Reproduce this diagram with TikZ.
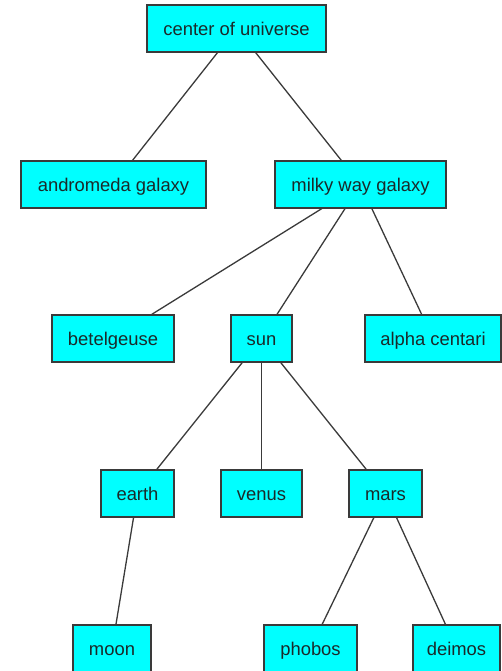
\documentclass[tikz,border=0pt]{standalone}
\usepackage{fontspec}
\setmainfont{Liberation Sans}
\definecolor{boxfill}{HTML}{00FFFF}
\definecolor{edgecol}{HTML}{3A3A3A}
\definecolor{txtcol}{HTML}{1A2A2A}
\begin{document}
\begin{tikzpicture}[x=1pt,y=-1pt,
  box/.style={draw=edgecol,fill=boxfill,line width=1.3pt,rectangle,inner sep=0pt,
    minimum height=47pt,text height=13.2pt,text depth=0pt,text=txtcol,
    font=\fontsize{18.4}{22}\selectfont},
  link/.style={draw=edgecol,line width=1.3pt}]
\useasboundingbox (0,0) rectangle (502,671);
\clip (0,0) rectangle (502,671);
\node[box,minimum width=179pt] (cou) at (236.5,28.5) {center of universe};
\node[box,minimum width=185pt] (andr) at (113.5,184.5) {andromeda galaxy};
\node[box,minimum width=171pt] (milky) at (360.5,184.5) {milky way galaxy};
\node[box,minimum width=122pt] (betel) at (113,338.5) {betelgeuse};
\node[box,minimum width=61pt] (sun) at (261.5,338.5) {sun};
\node[box,minimum width=136pt] (alpha) at (433,338.5) {alpha centari};
\node[box,minimum width=73pt] (earth) at (137.5,493.5) {earth};
\node[box,minimum width=81pt] (venus) at (261.5,493.5) {venus};
\node[box,minimum width=73pt] (mars) at (385.5,493.5) {mars};
\node[box,minimum width=78pt] (moon) at (112,648.5) {moon};
\node[box,minimum width=93pt] (phobos) at (310.5,648.5) {phobos};
\node[box,minimum width=87pt] (deimos) at (456.5,648.5) {deimos};
\draw[link] (cou) -- (andr);
\draw[link] (cou) -- (milky);
\draw[link] (milky) -- (betel);
\draw[link] (milky) -- (sun);
\draw[link] (milky) -- (alpha);
\draw[link] (sun) -- (earth);
\draw[link] (sun) -- (venus);
\draw[link] (sun) -- (mars);
\draw[link] (earth) -- (moon);
\draw[link] (mars) -- (phobos);
\draw[link] (mars) -- (deimos);
\end{tikzpicture}
\end{document}
